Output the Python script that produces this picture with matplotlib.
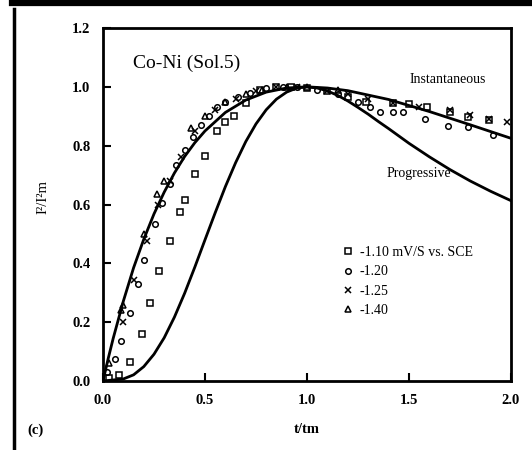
import matplotlib.pyplot as plt
from matplotlib.lines import Line2D

plt.rcParams['font.family'] = ['Liberation Serif', 'DejaVu Serif']

# theoretical curves
t_inst = [0, 0.025, 0.05, 0.1, 0.15, 0.2, 0.25, 0.3, 0.35, 0.4, 0.45, 0.5, 0.6, 0.7, 0.8, 0.9,
          1.0, 1.1, 1.2, 1.4, 1.6, 1.8, 2.0]
y_inst = [0, 0.075, 0.145, 0.272, 0.385, 0.482, 0.568, 0.642, 0.707, 0.763, 0.810, 0.850, 0.913,
          0.955, 0.982, 0.996, 1.0, 0.996, 0.987, 0.957, 0.916, 0.871, 0.825]

t_prog = [0, 0.1, 0.15, 0.2, 0.25, 0.3, 0.35, 0.4, 0.45, 0.5, 0.55, 0.6, 0.65, 0.7, 0.75, 0.8,
          0.85, 0.9, 0.95, 1.0, 1.05, 1.1, 1.15, 1.2, 1.25, 1.3, 1.35, 1.4, 1.45, 1.5, 1.6,
          1.7, 1.8, 1.9, 2.0]
y_prog = [0, 0.007, 0.021, 0.049, 0.091, 0.147, 0.217, 0.298, 0.387, 0.480, 0.572, 0.661, 0.742,
          0.814, 0.874, 0.922, 0.958, 0.982, 0.996, 1.0, 0.996, 0.986, 0.971, 0.952, 0.930,
          0.907, 0.882, 0.858, 0.833, 0.808, 0.762, 0.719, 0.680, 0.645, 0.613]

# measured points
t_110 = [0.03, 0.08, 0.13, 0.19, 0.23, 0.275, 0.33, 0.375, 0.40, 0.45, 0.50, 0.56, 0.60, 0.64,
         0.70, 0.77, 0.85, 0.92, 1.0, 1.1, 1.2, 1.29, 1.42, 1.5, 1.59, 1.70, 1.79, 1.89]
y_110 = [0.01, 0.02, 0.065, 0.16, 0.265, 0.375, 0.475, 0.575, 0.615, 0.705, 0.765, 0.85, 0.88,
         0.90, 0.945, 0.99, 1.0, 1.0, 0.995, 0.985, 0.965, 0.95, 0.945, 0.94, 0.93, 0.915, 0.898, 0.888]

t_120 = [0.02, 0.06, 0.09, 0.13, 0.17, 0.2, 0.255, 0.29, 0.33, 0.36, 0.4, 0.44, 0.48, 0.52, 0.56,
         0.6, 0.66, 0.72, 0.8, 0.88, 0.95, 1.05, 1.15, 1.25, 1.31, 1.36, 1.42, 1.47, 1.58, 1.69,
         1.79, 1.91]
y_120 = [0.03, 0.075, 0.135, 0.23, 0.33, 0.41, 0.535, 0.605, 0.67, 0.735, 0.785, 0.83, 0.87, 0.9,
         0.93, 0.95, 0.965, 0.98, 0.995, 1.0, 1.0, 0.99, 0.975, 0.95, 0.93, 0.915, 0.915, 0.915,
         0.89, 0.867, 0.864, 0.837]

t_125 = [0.1, 0.15, 0.215, 0.27, 0.33, 0.38, 0.45, 0.55, 0.65, 0.75, 0.85, 0.95, 1.1, 1.2, 1.3,
         1.42, 1.55, 1.70, 1.80, 1.89, 1.98]
y_125 = [0.2, 0.345, 0.475, 0.6, 0.68, 0.76, 0.85, 0.92, 0.96, 0.985, 1.0, 1.0, 0.985, 0.975,
         0.96, 0.945, 0.93, 0.92, 0.905, 0.89, 0.88]

t_140 = [0.03, 0.09, 0.1, 0.2, 0.265, 0.3, 0.43, 0.5, 0.6, 0.7, 0.78, 0.9, 1.0, 1.15]
y_140 = [0.06, 0.24, 0.26, 0.5, 0.635, 0.68, 0.86, 0.9, 0.95, 0.975, 0.99, 1.0, 1.0, 0.99]

fig = plt.figure(figsize=(5.32, 4.5), dpi=100)
ax = fig.add_axes([103 / 532, 1 - 381 / 450, 408 / 532, 353 / 450])

ax.plot(t_inst, y_inst, color='black', lw=2)
ax.plot(t_prog, y_prog, color='black', lw=2)

mk = dict(ls='none', color='black', mfc='none', mew=1.1)
ax.plot(t_110, y_110, marker='s', ms=4.5, label='-1.10 mV/S vs. SCE', **mk)
ax.plot(t_120, y_120, marker='o', ms=4, label='-1.20', **mk)
ax.plot(t_125, y_125, marker='x', ms=4.5, label='-1.25', **mk)
ax.plot(t_140, y_140, marker='^', ms=4.5, label='-1.40', **mk)

ax.set_xlim(0, 2.0)
ax.set_ylim(0, 1.2)
ax.set_xticks([0, 0.5, 1.0, 1.5, 2.0])
ax.set_yticks([0, 0.2, 0.4, 0.6, 0.8, 1.0, 1.2])
ax.set_xticklabels(['0.0', '0.5', '1.0', '1.5', '2.0'])
ax.set_yticklabels(['0.0', '0.2', '0.4', '0.6', '0.8', '1.0', '1.2'])
ax.tick_params(direction='in', length=6, width=1.5, labelsize=10.5, pad=9)
for lab in ax.get_xticklabels() + ax.get_yticklabels():
    lab.set_fontweight('bold')
for s in ax.spines.values():
    s.set_linewidth(2)

ax.set_xlabel('t/tm', fontsize=10.5, fontweight='bold', labelpad=12)
ax.set_ylabel('I²/I²m', fontsize=10.5, labelpad=8)
ax.yaxis.set_label_coords(-0.13, 0.52)

ax.text(0.0735, 0.901, 'Co-Ni (Sol.5)', transform=ax.transAxes, fontsize=14, va='center')
ax.text(0.752, 0.853, 'Instantaneous', transform=ax.transAxes, fontsize=10, va='center')
ax.text(0.696, 0.589, 'Progressive', transform=ax.transAxes, fontsize=10, va='center')
fig.text(27 / 532, 1 - 430 / 450, '(c)', fontsize=10.5, fontweight='bold', va='center')

ax.legend(loc='upper left', bbox_to_anchor=(0.583, 0.382), frameon=False, fontsize=10,
          handlelength=1.0, handletextpad=0.35, labelspacing=0.45, borderpad=0, borderaxespad=0)

# frame of the scanned page
fig.add_artist(Line2D([12 / 532, 1], [1 - 3 / 450, 1 - 3 / 450], color='black', lw=4.5))
fig.add_artist(Line2D([13.5 / 532, 13.5 / 532], [0, 1 - 9 / 450], color='black', lw=2.5))

fig.savefig('out.png', dpi=100)
